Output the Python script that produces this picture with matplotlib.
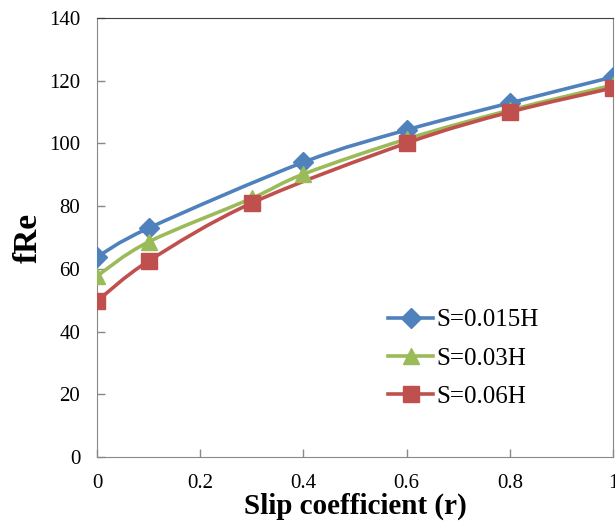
import numpy as np
import matplotlib.pyplot as plt
from matplotlib.path import Path
from matplotlib.patches import PathPatch
from matplotlib.lines import Line2D

plt.rcParams['font.family'] = ['Liberation Serif', 'DejaVu Serif']

# values
x_015 = [0, 0.1, 0.4, 0.6, 0.8, 1.0]
fre_015 = [63.8, 73.0, 94.0, 104.3, 112.9, 121.2]
x_03 = [0, 0.1, 0.3, 0.4, 0.6, 0.8, 1.0]
fre_03 = [57.7, 68.6, 82.5, 90.2, 101.4, 110.6, 118.6]
x_06 = [0, 0.1, 0.3, 0.6, 0.8, 1.0]
fre_06 = [49.7, 62.5, 81.0, 100.1, 110.0, 117.7]

labels = ['S=0.015H', 'S=0.03H', 'S=0.06H']
colors = ['#4F81BD', '#9BBB59', '#C0504D']
markers = ['D', '^', 's']
msizes = [10, 12, 12]


def smooth_path(xs, ys):
	# excel-like smoothed line: catmull-rom segments as cubic bezier
	p = np.column_stack([xs, ys])
	n = len(p)
	verts = [p[0]]
	codes = [Path.MOVETO]
	for i in range(n - 1):
		p0 = p[i - 1] if i > 0 else p[i]
		p3 = p[i + 2] if i + 2 < n else p[i + 1]
		c1 = p[i] + (p[i + 1] - p0) / 6
		c2 = p[i + 1] - (p3 - p[i]) / 6
		verts += [c1, c2, p[i + 1]]
		codes += [Path.CURVE4] * 3
	return Path(verts, codes)


fig = plt.figure(figsize=(6.15, 5.28), dpi=100)
ax = fig.add_axes([97 / 615, 71 / 528, 516 / 615, 439 / 528])

series = [(x_015, fre_015), (x_03, fre_03), (x_06, fre_06)]
handles = []
for (xs, ys), lab, c, m, ms in zip(series, labels, colors, markers, msizes):
	ax.add_patch(PathPatch(smooth_path(xs, ys), facecolor='none', edgecolor=c,
		lw=2.6, capstyle='round', zorder=2))
	ax.plot(xs, ys, linestyle='none', marker=m, markersize=ms, color=c, zorder=3)
	handles.append(Line2D([], [], color=c, lw=2.6, marker=m, markersize=ms, label=lab))

ax.set_xlim(0, 1)
ax.set_ylim(0, 140)
ax.set_xticks(np.arange(0, 1.01, 0.2))
ax.set_xticklabels(['0', '0.2', '0.4', '0.6', '0.8', '1'])
ax.set_yticks(np.arange(0, 141, 20))
ax.tick_params(direction='in', length=6, width=1, color='#888888', labelsize=15, pad=12)

for side in ['left', 'bottom', 'right']:
	ax.spines[side].set_color('#888888')
ax.spines['top'].set_color('#404040')

ax.set_xlabel('Slip coefficient (r)', fontsize=21, fontweight='bold', labelpad=0)
ax.set_ylabel('fRe', fontsize=24, fontweight='bold', labelpad=4)

ax.legend(handles=handles, loc='upper left', bbox_to_anchor=(388 / 615, 1 - 309 / 528),
	bbox_transform=fig.transFigure, frameon=False, fontsize=18, handlelength=1.8,
	handletextpad=0.15, labelspacing=0.63, borderpad=0, borderaxespad=0)

plt.savefig('out.png', dpi=100)
